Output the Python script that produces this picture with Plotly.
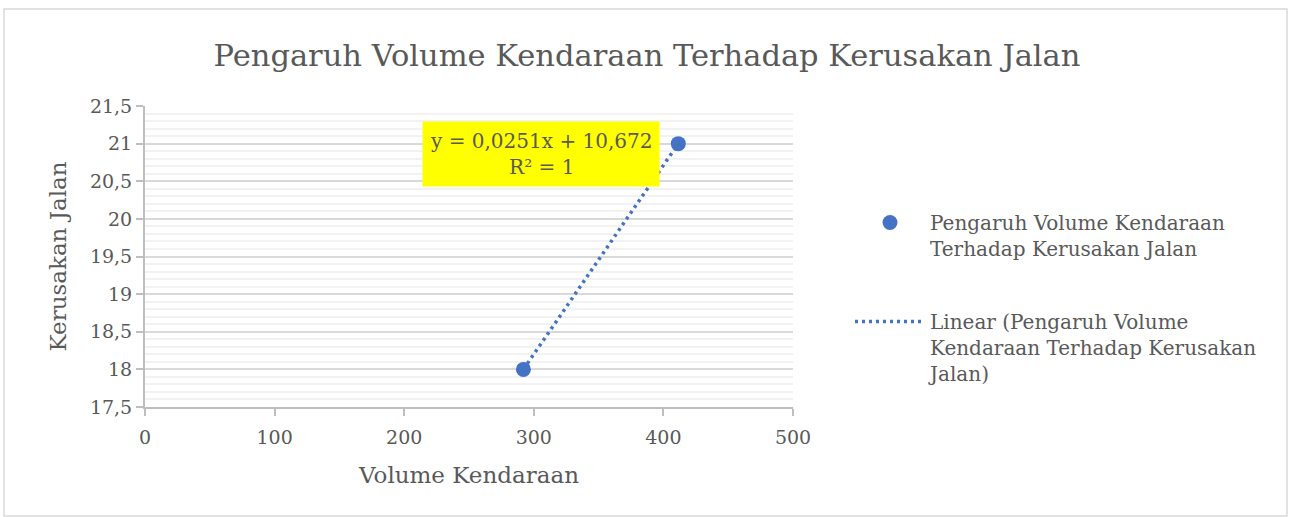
import numpy as np
import plotly.graph_objects as go

# Data
volume = [292, 411.5]
kerusakan = [18, 21]
series_name = "Pengaruh Volume Kendaraan<br>Terhadap Kerusakan Jalan"
trend_name = "Linear (Pengaruh Volume<br>Kendaraan Terhadap Kerusakan<br>Jalan)"
equation_text = "y = 0,0251x + 10,672<br>R² = 1"
title_text = "Pengaruh Volume Kendaraan Terhadap Kerusakan Jalan"
x_title = "Volume Kendaraan"
y_title = "Kerusakan Jalan"

BLUE = "#4472C4"
GRAY = "#595959"
FONT = "DejaVu Serif"

coef = np.polyfit(volume, kerusakan, 1)
tx = np.array([min(volume), max(volume)])
ty = np.polyval(coef, tx)

fig = go.Figure()
fig.add_trace(go.Scatter(
    x=volume, y=kerusakan, mode="markers", name=series_name,
    marker=dict(color=BLUE, size=15), legendgroup="a"))
fig.add_trace(go.Scatter(
    x=tx, y=ty, mode="lines", name=trend_name,
    line=dict(color=BLUE, width=3.5, dash="3px,4px"), legendgroup="b"))

W, H = 1290, 517
L, R, T, B = 145, 793, 106, 407
pw, ph = R - L, B - T

def px_x(p):
    return (p - L) / pw

def px_y(p):
    return (B - p) / ph

fig.update_layout(
    width=W, height=H,
    margin=dict(l=L, r=W - R, t=T, b=H - B, autoexpand=False),
    paper_bgcolor="white", plot_bgcolor="white",
    separators=",.",
    font=dict(family=FONT, color=GRAY, size=19),
    title=dict(text=title_text, x=647 / W, xanchor="center",
               y=1 - 55 / H, yanchor="middle",
               font=dict(family=FONT, size=30.5, color=GRAY)),
    xaxis=dict(range=[0, 500], dtick=100, showgrid=False, zeroline=False,
               showline=True, linecolor="#BFBFBF", linewidth=2,
               ticks="outside", ticklen=7, tickcolor="#BFBFBF", tickwidth=2,
               ticklabelstandoff=5,
               tickfont=dict(size=19, color=GRAY),
               title=dict(text=x_title, font=dict(size=23, color=GRAY), standoff=20)),
    yaxis=dict(range=[17.5, 21.5], dtick=0.5, showgrid=True, gridcolor="#D9D9D9",
               gridwidth=2, zeroline=False,
               showline=True, linecolor="#BFBFBF", linewidth=2,
               ticks="outside", ticklen=7, tickcolor="#BFBFBF", tickwidth=2,
               tickfont=dict(size=19, color=GRAY),
               minor=dict(dtick=0.1, showgrid=True, gridcolor="#F2F2F2", gridwidth=2),
               title=dict(text=y_title, font=dict(size=23, color=GRAY), standoff=17)),
    legend=dict(x=px_x(850), y=px_y(203), xanchor="left", yanchor="top",
                font=dict(family=FONT, size=20, color=GRAY),
                tracegroupgap=44, valign="top", itemwidth=70,
                bgcolor="rgba(0,0,0,0)"),
    showlegend=True,
)

fig.add_annotation(
    x=305.6, y=20.86, xref="x", yref="y", text=equation_text, showarrow=False,
    bgcolor="#FFFF00", font=dict(family=FONT, size=20, color=GRAY),
    borderpad=7, align="center")

fig.add_shape(type="rect", xref="paper", yref="paper",
              x0=px_x(4), x1=px_x(1287), y0=px_y(516), y1=px_y(9),
              line=dict(color="#D9D9D9", width=1.5), layer="below")

fig.write_html("out.html", config={"displayModeBar": False},
               post_script="document.body.style.margin='0';")
